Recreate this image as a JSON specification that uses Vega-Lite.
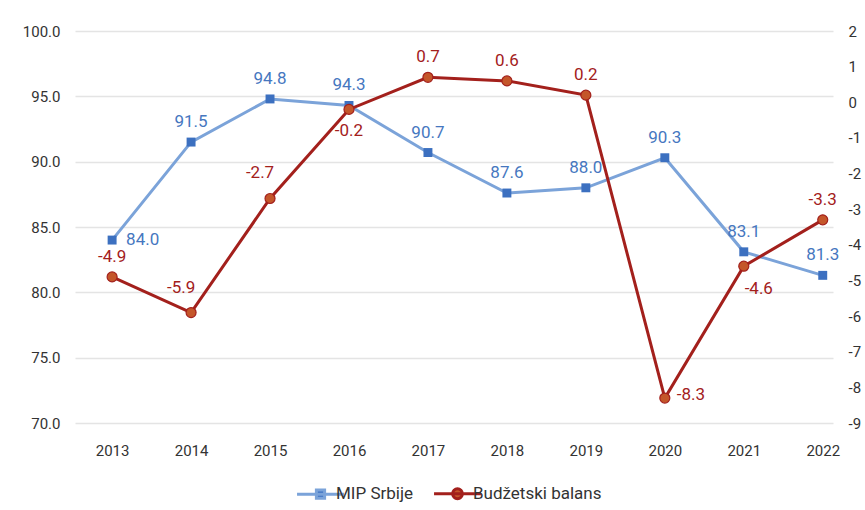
{
  "$schema": "https://vega.github.io/schema/vega-lite/v6.json",
  "width": 758,
  "height": 392,
  "autosize": {"type": "none"},
  "padding": {"left": 75, "top": 31, "right": 32, "bottom": 87},
  "background": "white",
  "config": {
    "locale": {"number": {"decimal": ".", "thousands": ",", "grouping": [3], "currency": ["$", ""], "minus": "-"}},
    "view": {"stroke": null},
    "font": "Roboto",
    "axis": {"labelFont": "Roboto", "labelFontSize": 15, "labelColor": "#333333", "domain": false, "ticks": false, "title": null},
    "legend": {"labelFont": "Roboto", "labelFontSize": 17, "labelColor": "#333333"}
  },
  "data": {
    "values": [
      {"year": 2013, "series": "MIP Srbije", "value": 84.0},
      {"year": 2014, "series": "MIP Srbije", "value": 91.5},
      {"year": 2015, "series": "MIP Srbije", "value": 94.8},
      {"year": 2016, "series": "MIP Srbije", "value": 94.3},
      {"year": 2017, "series": "MIP Srbije", "value": 90.7},
      {"year": 2018, "series": "MIP Srbije", "value": 87.6},
      {"year": 2019, "series": "MIP Srbije", "value": 88.0},
      {"year": 2020, "series": "MIP Srbije", "value": 90.3},
      {"year": 2021, "series": "MIP Srbije", "value": 83.1},
      {"year": 2022, "series": "MIP Srbije", "value": 81.3},
      {"year": 2013, "series": "Budžetski balans", "value": -4.9},
      {"year": 2014, "series": "Budžetski balans", "value": -5.9},
      {"year": 2015, "series": "Budžetski balans", "value": -2.7},
      {"year": 2016, "series": "Budžetski balans", "value": -0.2},
      {"year": 2017, "series": "Budžetski balans", "value": 0.7},
      {"year": 2018, "series": "Budžetski balans", "value": 0.6},
      {"year": 2019, "series": "Budžetski balans", "value": 0.2},
      {"year": 2020, "series": "Budžetski balans", "value": -8.3},
      {"year": 2021, "series": "Budžetski balans", "value": -4.6},
      {"year": 2022, "series": "Budžetski balans", "value": -3.3}
    ]
  },
  "encoding": {
    "x": {
      "field": "year", "type": "quantitative",
      "scale": {"domain": [2012.53, 2022.13], "nice": false, "zero": false},
      "axis": {"values": [2013, 2014, 2015, 2016, 2017, 2018, 2019, 2020, 2021, 2022], "format": "d", "grid": false, "labelPadding": 20, "labelFlush": false}
    }
  },
  "layer": [
    {
      "transform": [{"filter": "datum.series === 'MIP Srbije'"}],
      "encoding": {
        "y": {
          "field": "value", "type": "quantitative",
          "scale": {"domain": [70, 100], "nice": false, "zero": false},
          "axis": {"orient": "left", "values": [70, 75, 80, 85, 90, 95, 100], "format": ".1f", "grid": true, "gridColor": "#e4e4e4", "gridWidth": 1.5, "labelPadding": 15}
        }
      },
      "layer": [
        {
          "mark": {"type": "line", "strokeWidth": 3},
          "encoding": {
            "stroke": {
              "field": "series", "type": "nominal",
              "scale": {"domain": ["MIP Srbije", "Budžetski balans"], "range": ["#7ba3d9", "#a3201c"]},
              "legend": {
                "title": null, "orient": "none", "legendX": 232, "legendY": 449, "direction": "horizontal",
                "symbolType": "M-2,0H2", "symbolSize": 550, "symbolStrokeWidth": 3, "columnPadding": 14, "labelOffset": 2,
                "encode": {
                  "symbols": {
                    "update": {
                      "shape": {"signal": "datum.value === 'MIP Srbije' ? 'M-2,0H2M-0.35,-0.35H0.35V0.35H-0.35Z' : 'M-2,0H2M0.42,0A0.42,0.42 0 1,1 -0.42,0A0.42,0.42 0 1,1 0.42,0Z'"},
                      "fill": {"signal": "datum.value === 'MIP Srbije' ? '#3c70c0' : '#c4562a'"},
                      "fillOpacity": {"value": 1}
                    }
                  }
                }
              }
            }
          }
        },
        {
          "mark": {"type": "point", "shape": "square", "filled": true, "size": 80, "color": "#3c70c0", "opacity": 1}
        },
        {
          "transform": [{"filter": "datum.year !== 2013"}],
          "mark": {"type": "text", "fontSize": 17, "color": "#4677bf", "dy": -20},
          "encoding": {"text": {"field": "value", "type": "quantitative", "format": ".1f"}}
        },
        {
          "transform": [{"filter": "datum.year === 2013"}],
          "mark": {"type": "text", "fontSize": 17, "color": "#4677bf", "align": "left", "dx": 14},
          "encoding": {"text": {"field": "value", "type": "quantitative", "format": ".1f"}}
        }
      ]
    },
    {
      "transform": [{"filter": "datum.series === 'Budžetski balans'"}],
      "encoding": {
        "y": {
          "field": "value", "type": "quantitative",
          "scale": {"domain": [-9, 2], "nice": false, "zero": false},
          "axis": {"orient": "right", "values": [-9, -8, -7, -6, -5, -4, -3, -2, -1, 0, 1, 2], "format": "d", "grid": false, "labelPadding": 15}
        }
      },
      "layer": [
        {
          "mark": {"type": "line", "strokeWidth": 3},
          "encoding": {
            "stroke": {"field": "series", "type": "nominal", "scale": {"domain": ["MIP Srbije", "Budžetski balans"], "range": ["#7ba3d9", "#a3201c"]}}
          }
        },
        {
          "mark": {"type": "point", "shape": "circle", "filled": true, "size": 100, "fill": "#c4562a", "stroke": "#a3201c", "strokeWidth": 1.2, "opacity": 1}
        },
        {
          "transform": [{"filter": "datum.year === 2013 || datum.year === 2017 || datum.year === 2018 || datum.year === 2019 || datum.year === 2022"}],
          "mark": {"type": "text", "fontSize": 17, "color": "#a3201c", "dy": -20},
          "encoding": {"text": {"field": "value", "type": "quantitative", "format": ".1f"}}
        },
        {
          "transform": [{"filter": "datum.year === 2014 || datum.year === 2015"}],
          "mark": {"type": "text", "fontSize": 17, "color": "#a3201c", "dy": -25, "dx": -10},
          "encoding": {"text": {"field": "value", "type": "quantitative", "format": ".1f"}}
        },
        {
          "transform": [{"filter": "datum.year === 2016"}],
          "mark": {"type": "text", "fontSize": 17, "color": "#a3201c", "dy": 22},
          "encoding": {"text": {"field": "value", "type": "quantitative", "format": ".1f"}}
        },
        {
          "transform": [{"filter": "datum.year === 2020"}],
          "mark": {"type": "text", "fontSize": 17, "color": "#a3201c", "align": "left", "dx": 12, "dy": -3},
          "encoding": {"text": {"field": "value", "type": "quantitative", "format": ".1f"}}
        },
        {
          "transform": [{"filter": "datum.year === 2021"}],
          "mark": {"type": "text", "fontSize": 17, "color": "#a3201c", "dx": 15, "dy": 23},
          "encoding": {"text": {"field": "value", "type": "quantitative", "format": ".1f"}}
        }
      ]
    }
  ],
  "resolve": {"scale": {"y": "independent"}}
}
